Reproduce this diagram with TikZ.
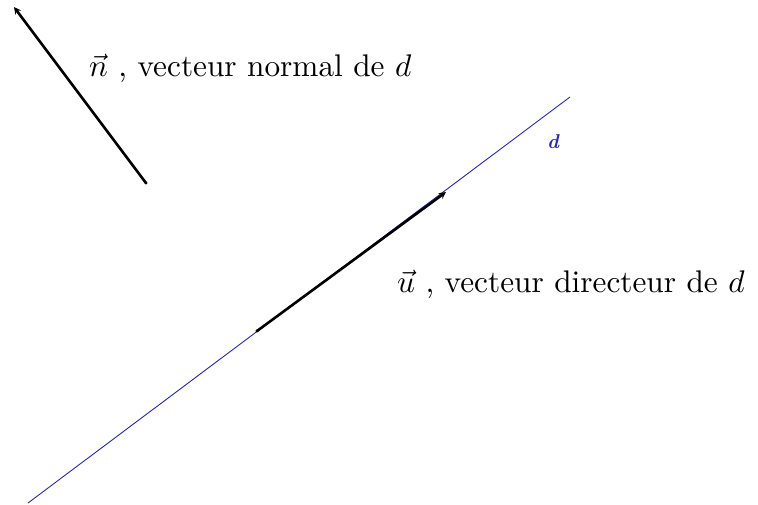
\documentclass[tikz,border=0pt]{standalone}
\usetikzlibrary{arrows.meta}
\definecolor{lineblue}{RGB}{40,40,170}
\begin{document}
\begin{tikzpicture}[x=1pt,y=-1pt,
  vec/.style={line width=2.6pt,-{Stealth[length=7pt,width=7pt]}},
  lbl/.style={inner sep=0pt,anchor=base west}]
\useasboundingbox (0,0) rectangle (758,504);
\coordinate (d1) at (28,503);
\coordinate (d2) at (570,97);
\draw[lineblue,line width=0.9pt] (d1) -- (d2);
\node[text=lineblue,inner sep=0pt] (dl) at (553,142) {\scalebox{2}{\bfseries\itshape d}};
\coordinate (u0) at (257,331);
\coordinate (u1) at (446,192);
\draw[vec] (u0) -- (u1);
\coordinate (n0) at (146,183);
\coordinate (n1) at (14,7);
\draw[vec] (n0) -- (n1);
\fill (u0) circle (1.6pt);
\fill (n0) circle (1.6pt);
\node[lbl] (nl) at (89,76) {\scalebox{3.13}{$\vec{n}$ , vecteur normal de $d$}};
\node[lbl] (ul) at (397,292) {\scalebox{3.13}{$\vec{u}$ , vecteur directeur de $d$}};
\end{tikzpicture}
\end{document}
